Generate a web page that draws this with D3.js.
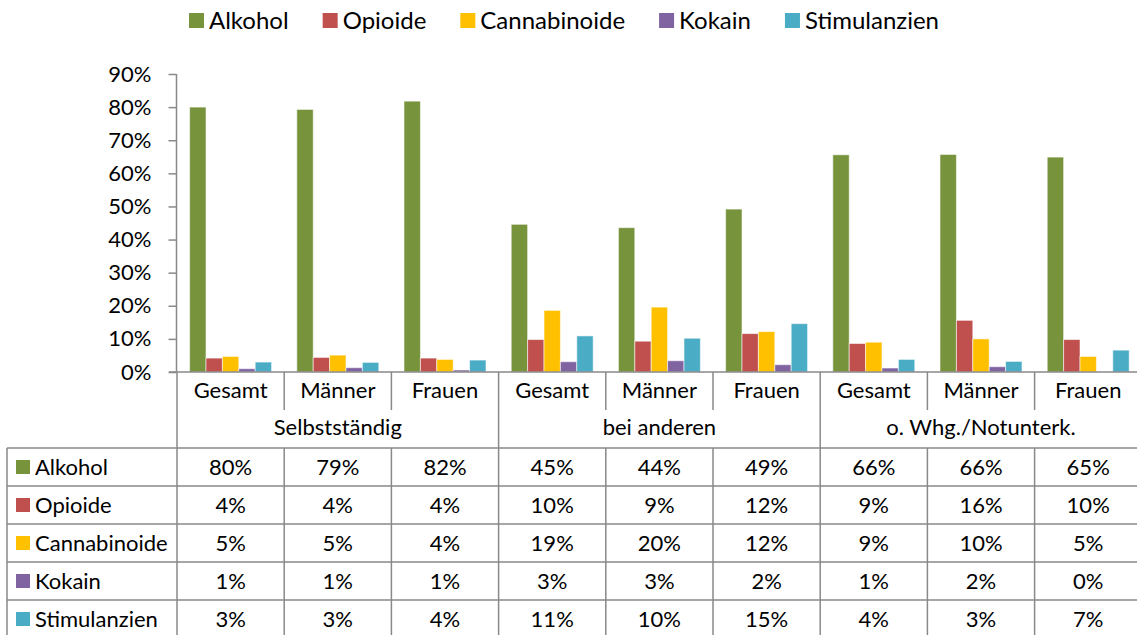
<!DOCTYPE html>
<html>
<head>
<meta charset="utf-8">
<script src="https://cdn.jsdelivr.net/npm/d3@7"></script>
<style>
  html, body { margin: 0; padding: 0; background: #fff; }
  svg { display: block; font-family: Lato, "Open Sans", sans-serif; }
</style>
</head>
<body>
<svg id="chart" width="1137" height="635"></svg>
<script>
// Wohnsituation groups and sub-categories
const groups = ['Selbstständig', 'bei anderen', 'o. Whg./Notunterk.'];
const subgroups = ['Gesamt', 'Männer', 'Frauen'];
const series = ['Alkohol', 'Opioide', 'Cannabinoide', 'Kokain', 'Stimulanzien'];
const colors = ['#77933c', '#c0504d', '#ffc000', '#8064a2', '#4bacc6'];

// values in percent, one entry per column (3 groups x 3 subgroups)
const alkohol      = [80.0, 79.3, 81.8, 44.6, 43.6, 49.2, 65.6, 65.7, 64.9];
const opioide      = [4.2, 4.4, 4.2, 9.8, 9.3, 11.6, 8.6, 15.6, 9.8];
const cannabinoide = [4.7, 5.1, 3.8, 18.6, 19.6, 12.2, 9.0, 10.0, 4.7];
const kokain       = [1.0, 1.3, 0.6, 3.1, 3.4, 2.2, 1.2, 1.6, 0.0];
const stimulanzien = [3.0, 2.9, 3.6, 10.9, 10.2, 14.6, 3.8, 3.2, 6.6];
const yTicks = [0, 10, 20, 30, 40, 50, 60, 70, 80, 90];

const values = [alkohol, opioide, cannabinoide, kokain, stimulanzien];
const columns = groups.flatMap(g => subgroups.map(s => ({ group: g, sub: s })));

const svg = d3.select('#chart');
const lineColor = '#898989';
const fontSize = 22;

// plot area
const plot = { left: 177, top: 74, bottom: 372 };
const colWidth = 107.2;
const tableLeft = 7;
const catBottom = 410;
const tableTop = 448;
const rowH = 38;

const x0 = d3.scaleBand()
  .domain(d3.range(columns.length))
  .range([plot.left, plot.left + colWidth * columns.length]);

const x1 = d3.scaleBand()
  .domain(series)
  .range([0, x0.bandwidth()])
  .paddingOuter(0.77);

const y = d3.scaleLinear()
  .domain([0, 90])
  .range([plot.bottom, plot.top]);

// bars
series.forEach((s, si) => {
  svg.append('g')
    .selectAll('rect')
    .data(values[si])
    .enter().append('rect')
    .attr('x', (d, i) => x0(i) + x1(s))
    .attr('y', d => y(d))
    .attr('width', x1.bandwidth())
    .attr('height', d => y(0) - y(d))
    .attr('fill', colors[si])
    .attr('stroke', 'rgba(255,255,255,0.55)')
    .attr('stroke-width', 1);
});

// y axis
const yAxis = svg.append('g')
  .attr('transform', `translate(${plot.left - 0.5},0)`)
  .call(d3.axisLeft(y).tickValues(yTicks).tickSize(8).tickPadding(17).tickFormat(d => d + '%'));
yAxis.selectAll('line, path').attr('stroke', lineColor).attr('stroke-width', 1.5);
yAxis.select('.domain').attr('d', `M0,${plot.top}V${plot.bottom}`);
yAxis.selectAll('text')
  .attr('font-size', fontSize)
  .attr('font-family', 'Lato, sans-serif')
  .attr('fill', '#000');

const grid = svg.append('g').attr('stroke', lineColor).attr('stroke-width', 1.5);

// x axis line (starts at the 0% tick)
grid.append('line')
  .attr('x1', plot.left - 8).attr('x2', 1137)
  .attr('y1', y(0)).attr('y2', y(0));

// vertical separators below the axis
d3.range(columns.length + 1).forEach(i => {
  const xx = plot.left + i * colWidth;
  if (i % 3 === 0) {
    grid.append('line').attr('x1', xx).attr('x2', xx).attr('y1', y(0)).attr('y2', 635);
  } else {
    grid.append('line').attr('x1', xx).attr('x2', xx).attr('y1', y(0)).attr('y2', catBottom);
    grid.append('line').attr('x1', xx).attr('x2', xx).attr('y1', tableTop).attr('y2', 635);
  }
});

// table left border and horizontal lines
grid.append('line').attr('x1', tableLeft).attr('x2', tableLeft).attr('y1', tableTop).attr('y2', 635);
d3.range(series.length + 1).forEach(r => {
  grid.append('line')
    .attr('x1', tableLeft).attr('x2', 1137)
    .attr('y1', tableTop + r * rowH).attr('y2', tableTop + r * rowH);
});

// category labels
svg.append('g')
  .selectAll('text')
  .data(columns)
  .enter().append('text')
  .attr('x', (d, i) => x0(i) + x0.bandwidth() / 2)
  .attr('y', 398)
  .attr('text-anchor', 'middle')
  .attr('font-size', fontSize)
  .text(d => d.sub);

// group labels
svg.append('g')
  .selectAll('text')
  .data(groups)
  .enter().append('text')
  .attr('x', (d, i) => x0(i * 3) + colWidth * 1.5)
  .attr('y', 435)
  .attr('text-anchor', 'middle')
  .attr('font-size', fontSize)
  .text(d => d);

// data table
const fmt = d3.format('.0f');
series.forEach((s, si) => {
  const rowY = tableTop + si * rowH;
  svg.append('rect')
    .attr('x', 16).attr('y', rowY + rowH / 2 - 7)
    .attr('width', 14).attr('height', 14)
    .attr('fill', colors[si]);
  svg.append('text')
    .attr('x', 35).attr('y', rowY + rowH / 2 + 7.5)
    .attr('font-size', fontSize)
    .text(s);
  svg.append('g')
    .selectAll('text')
    .data(values[si])
    .enter().append('text')
    .attr('x', (d, i) => x0(i) + x0.bandwidth() / 2)
    .attr('y', rowY + rowH / 2 + 7.5)
    .attr('text-anchor', 'middle')
    .attr('font-size', fontSize)
    .text(d => fmt(d) + '%');
});

// legend on top
const legend = svg.append('g');
const legendGap = 34;
let lx = 0;
series.forEach((s, si) => {
  const item = legend.append('g').attr('transform', `translate(${lx},0)`);
  item.append('rect')
    .attr('x', 0).attr('y', 13)
    .attr('width', 15).attr('height', 15)
    .attr('fill', colors[si]);
  const t = item.append('text')
    .attr('x', 20).attr('y', 28.5)
    .attr('font-size', 24)
    .text(s);
  lx += 20 + t.node().getComputedTextLength() + legendGap;
});
const legendW = lx - legendGap;
legend.attr('transform', `translate(${564 - legendW / 2},0)`);
</script>
</body>
</html>
